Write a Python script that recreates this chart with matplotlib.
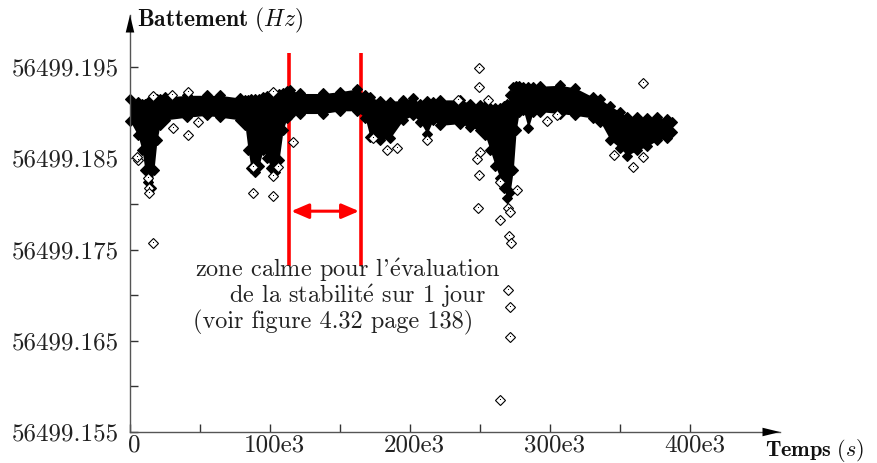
import matplotlib
matplotlib.use("Agg")
import matplotlib.pyplot as plt
import matplotlib.transforms as mtransforms

plt.rcParams['font.family'] = ['cmr10', 'STIXGeneral']
plt.rcParams['mathtext.fontset'] = 'cm'
plt.rcParams['axes.unicode_minus'] = False

# dense part of the measurement: envelope of the cloud of points (time in s, beat in Hz)
band_t = [0, 5700, 8600, 10700, 12900, 15000, 17100, 19300, 21400, 25000,
          40700, 55000, 64300, 78600, 82100, 84300, 86400, 89300, 92100, 95000,
          97900, 100700, 103600, 106400, 109300, 112100, 114300, 121400, 137900, 150000,
          162100, 167900, 171400, 178600, 185700, 195000, 202100, 207100, 212100, 216400,
          221400, 235700, 242900, 250000, 253600, 257100, 260700, 264300, 267100, 269300,
          271400, 273600, 275700, 277900, 280700, 284300, 287900, 292900, 307100, 317900,
          330700, 335700, 342900, 350000, 355000, 362100, 369300, 376400, 383600, 387100]
band_hi = [56499.1915, 56499.1912, 56499.1910, 56499.1910, 56499.1912, 56499.1913, 56499.1914, 56499.1915, 56499.1915, 56499.1917,
           56499.1919, 56499.1919, 56499.1919, 56499.1916, 56499.1914, 56499.1914, 56499.1915, 56499.1915, 56499.1915, 56499.1917,
           56499.1918, 56499.1919, 56499.1919, 56499.1920, 56499.1921, 56499.1924, 56499.1925, 56499.1921, 56499.1921, 56499.1923,
           56499.1926, 56499.1919, 56499.1917, 56499.1913, 56499.1912, 56499.1914, 56499.1916, 56499.1910, 56499.1913, 56499.1912,
           56499.1914, 56499.1914, 56499.1910, 56499.1908, 56499.1907, 56499.1905, 56499.1905, 56499.1905, 56499.1907, 56499.1909,
           56499.1919, 56499.1928, 56499.1929, 56499.1929, 56499.1928, 56499.1928, 56499.1928, 56499.1929, 56499.1930, 56499.1927,
           56499.1917, 56499.1915, 56499.1907, 56499.1901, 56499.1895, 56499.1895, 56499.1894, 56499.1895, 56499.1893, 56499.1890]
band_lo = [56499.1891, 56499.1875, 56499.1859, 56499.1837, 56499.1824, 56499.1817, 56499.1837, 56499.1870, 56499.1886, 56499.1892,
           56499.1895, 56499.1897, 56499.1895, 56499.1892, 56499.1886, 56499.1859, 56499.1839, 56499.1835, 56499.1842, 56499.1859,
           56499.1850, 56499.1839, 56499.1835, 56499.1848, 56499.1881, 56499.1894, 56499.1897, 56499.1899, 56499.1899, 56499.1902,
           56499.1902, 56499.1894, 56499.1873, 56499.1870, 56499.1872, 56499.1892, 56499.1897, 56499.1890, 56499.1877, 56499.1892,
           56499.1886, 56499.1888, 56499.1884, 56499.1881, 56499.1875, 56499.1859, 56499.1842, 56499.1828, 56499.1817, 56499.1806,
           56499.1813, 56499.1837, 56499.1881, 56499.1901, 56499.1903, 56499.1883, 56499.1901, 56499.1901, 56499.1899, 56499.1897,
           56499.1894, 56499.1890, 56499.1870, 56499.1861, 56499.1853, 56499.1859, 56499.1863, 56499.1870, 56499.1872, 56499.1879]

# isolated points
out_t = [5700, 5000, 12900, 13600, 13600, 16400, 30700, 41400, 48600, 87900,
         87900, 102100, 102100, 105700, 116400, 30000, 41400, 16400, 102100, 183600,
         190700, 173600, 212100, 234300, 249300, 249300, 255700, 250000, 247900, 249300,
         248600, 264300, 270000, 271400, 264300, 270700, 272100, 270000, 271400, 271400,
         264300, 276400, 297900, 305000, 345700, 359300, 366400, 366400]
out_f = [56499.1848, 56499.1851, 56499.1828, 56499.1817, 56499.1812, 56499.1757, 56499.1883, 56499.1875, 56499.1890, 56499.1812,
         56499.1840, 56499.1809, 56499.1831, 56499.1840, 56499.1868, 56499.1919, 56499.1923, 56499.1918, 56499.1923, 56499.1859,
         56499.1861, 56499.1872, 56499.1870, 56499.1914, 56499.1949, 56499.1928, 56499.1914, 56499.1857, 56499.1849, 56499.1832,
         56499.1796, 56499.1824, 56499.1796, 56499.1791, 56499.1782, 56499.1765, 56499.1757, 56499.1706, 56499.1687, 56499.1654,
         56499.1585, 56499.1815, 56499.1891, 56499.1897, 56499.1854, 56499.1840, 56499.1851, 56499.1932]

# calm zone
calm_start = 113600
calm_end = 165000

xticks = [0, 50000, 100000, 150000, 200000, 250000, 300000, 350000, 400000]
xticklabels = ['0', '', '100e3', '', '200e3', '', '300e3', '', '400e3']
yticks = [56499.155, 56499.160, 56499.165, 56499.170, 56499.175, 56499.180,
          56499.185, 56499.190, 56499.195]
yticklabels = ['56499.155', '', '56499.165', '', '56499.175', '',
               '56499.185', '', '56499.195']

fig = plt.figure(figsize=(8.77, 4.63), dpi=100)
ax = fig.add_axes([130 / 877, 31 / 463, 650 / 877, 417 / 463])
ax.set_xlim(0, 464000)
ax.set_ylim(56499.155, 56499.2007)

# red markers of the calm zone (below the data)
ax.vlines([calm_start, calm_end], 56499.1732, 56499.1965, color='red', lw=2.6, zorder=1)
ax.annotate('', xy=(calm_start + 1500, 56499.1792), xytext=(calm_end - 1500, 56499.1792),
            arrowprops=dict(arrowstyle='<|-|>,head_length=0.7,head_width=0.3',
                            color='red', lw=2.2, shrinkA=0, shrinkB=0,
                            mutation_scale=15), zorder=1)

# data
ax.fill_between(band_t, band_lo, band_hi, color='black', lw=0, zorder=2)
ax.plot(band_t + band_t, band_hi + band_lo, ls='none', marker='D', ms=5,
        mfc='black', mec='black', mew=0.8, zorder=2, clip_on=False)
ax.plot(out_t, out_f, ls='none', marker='D', ms=5, mfc='white', mec='black',
        mew=0.8, zorder=3)
ax.plot(out_t, out_f, ls='none', marker=',', color='black', zorder=4)

# annotation
txt = dict(fontsize=17.5, color='#222222', va='baseline', ha='left')
ax.text(46400, 56499.1720, r"zone calme pour l'$\acute{\mathrm{e}}$valuation", **txt)
ax.text(70700, 56499.1691, r"de la stabilit$\acute{\mathrm{e}}$ sur 1 jour", **txt)
ax.text(45000, 56499.1664, "(voir figure 4.32 page 138)", **txt)

# axes
for s in ['top', 'right']:
    ax.spines[s].set_visible(False)
for s in ['left', 'bottom']:
    ax.spines[s].set_color('#555555')
    ax.spines[s].set_linewidth(1.0)
ax.set_xticks(xticks)
ax.set_xticklabels(xticklabels)
ax.set_yticks(yticks)
ax.set_yticklabels(yticklabels)
ax.tick_params(direction='in', length=6, width=1, color='#333333',
               labelsize=18, labelcolor='#222222')
ax.tick_params(axis='x', pad=2)
ax.tick_params(axis='y', pad=8)
shift = mtransforms.ScaledTranslation(4 / 100, 0, fig.dpi_scale_trans)
for lab in ax.get_xticklabels():
    lab.set_transform(lab.get_transform() + shift)

head = dict(arrowstyle='-|>,head_length=0.9,head_width=0.22', color='black',
            lw=0, shrinkA=0, shrinkB=0, mutation_scale=14)
ax.annotate('', xy=(1, 0), xycoords='axes fraction', xytext=(0.96, 0), arrowprops=head)
ax.annotate('', xy=(0, 1), xycoords='axes fraction', xytext=(0, 0.94), arrowprops=head)

fig.text(137 / 877, 1 - 20 / 463, r'$\mathbf{Battement\ (}Hz\mathbf{)}$', fontsize=17,
         ha='left', va='center', color='#111111')
fig.text(765 / 877, 1 - 456 / 463, r'$\mathbf{Temps\ (}s\mathbf{)}$', fontsize=16,
         ha='left', va='baseline', color='#111111')

fig.savefig('out.png', dpi=100)
